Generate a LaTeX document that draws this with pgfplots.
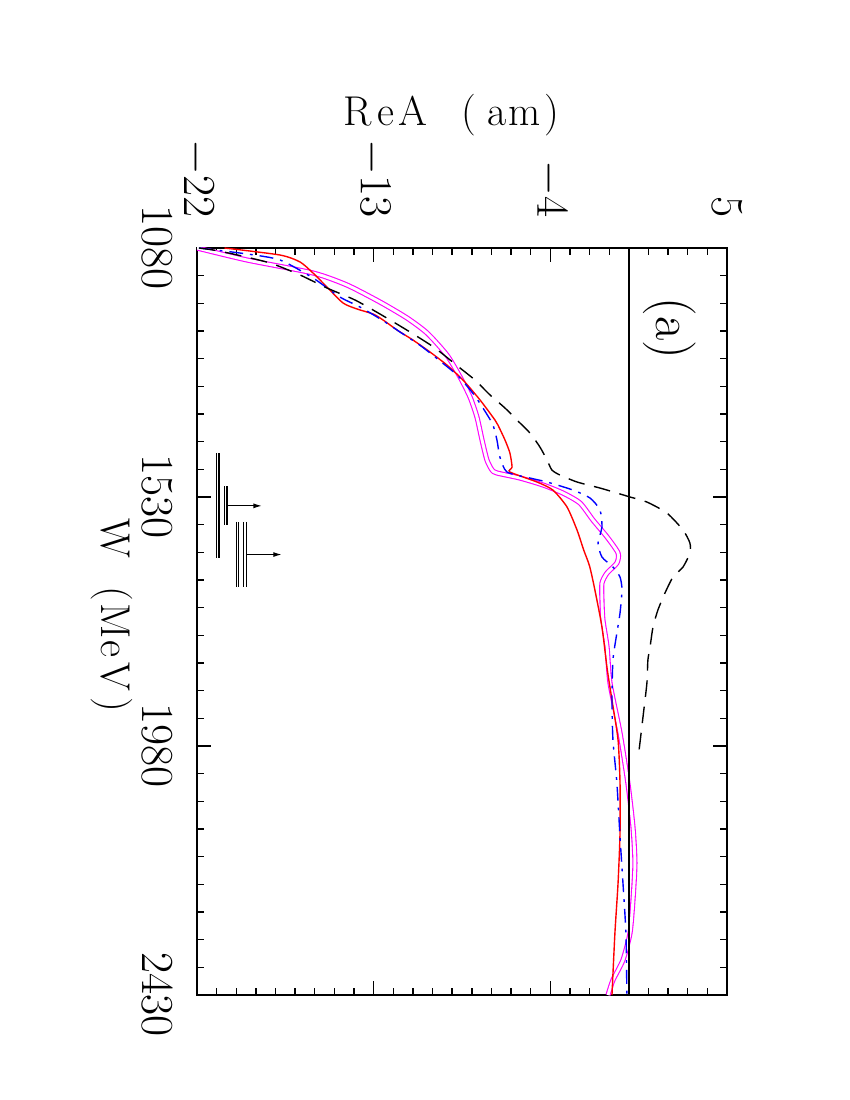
\documentclass[border=0pt]{standalone}
\usepackage{fix-cm}
\usepackage{pgfplots}
\pgfplotsset{compat=1.18}
\usetikzlibrary{arrows.meta}

\definecolor{cmag}{RGB}{255,0,255}
% fixed-pitch letters, as in the original labels
\newcommand{\cb}[1]{\makebox[20pt]{#1}}

\begin{document}
\begin{tikzpicture}
\useasboundingbox (0,0) rectangle (612pt,792pt);
\begin{axis}[
    at={(141.84pt,75.6pt)}, anchor=south west,
    scale only axis, width=381.6pt, height=537.84pt,
    xmin=-22, xmax=5, ymin=1080, ymax=2430, y dir=reverse,
    xtick={-22,-13,-4,5}, ytick={1080,1530,1980,2430},
    minor x tick num=8, minor y tick num=8,
    xtick pos=both, ytick pos=both,
    xticklabel pos=upper, yticklabel pos=left,
    tick align=inside,
    major tick length=10pt, minor tick length=5pt,
    every tick/.style={black, line width=1pt},
    axis line style={line width=1.3pt},
    scaled ticks=false,
    /pgf/number format/1000 sep={},
    tick label style={font=\fontsize{33}{40}\selectfont, inner sep=0pt},
    xticklabel style={rotate=-90, anchor=east},
    yticklabel style={rotate=-90, anchor=north},
    xticklabel shift=22pt, yticklabel shift=18pt,
    xlabel={\cb{R}\cb{e}\cb{A}\cb{}\cb{(}\cb{a}\cb{m}\cb{)}},
    ylabel={\cb{W}\cb{}\cb{(}\cb{M}\cb{e}\cb{V}\cb{)}},
    every axis x label/.style={at={(axis description cs:0.487,1.178)}, anchor=center, inner sep=0pt, font=\fontsize{30}{36}\selectfont},
    every axis y label/.style={at={(axis description cs:-0.121,0.5)}, rotate=-90, anchor=north, inner sep=0pt, font=\fontsize{30}{36}\selectfont},
]
% magenta band (double line)
\addplot[cmag, line width=0.8pt, double=white, double distance=2.1pt, smooth, tension=0.4] coordinates {
(-22,1080)(-19.45,1101.7)(-16.09,1125.2)(-14.36,1146.9)(-12.68,1177.6)(-11.30,1206.5)
(-10.28,1233.6)(-9.27,1273.4)(-8.60,1313.1)(-8.09,1349.3)(-7.74,1385.4)(-7.48,1427)
(-7.23,1463.1)(-6.97,1481.2)(-6.72,1486.6)(-5.55,1495.7)(-4.37,1508.3)(-3.36,1522.8)
(-2.49,1540.9)(-1.83,1571.6)(-1.11,1602.3)(-0.55,1631.2)(-0.61,1649.3)(-1.11,1667.4)
(-1.37,1685.5)(-1.37,1716.2)(-1.32,1752.3)(-1.11,1801.1)(-0.96,1866.2)(-0.45,1956.5)
(-0.05,2046.9)(0.21,2126.4)(0.31,2191.5)(0.21,2258.4)(0.06,2318)(-0.30,2366.8)
(-0.81,2403)(-1.06,2430)};
% red solid
\addplot[red, line width=1pt, smooth, tension=0.4] coordinates {
(-20.6,1080)(-17.77,1092.7)(-16.75,1105.3)(-16.09,1125.2)(-15.38,1150.5)(-14.56,1179.4)
(-13.85,1190.2)(-13.03,1199.3)(-12.52,1210.1)(-11.81,1228.2)(-11.00,1246.3)(-10.13,1268)
(-9.27,1291.5)(-8.45,1318.6)(-7.58,1354.7)(-6.82,1390.9)(-6.67,1399.9)(-6.31,1427)
(-6.06,1450.5)(-5.95,1475.8)(-6.06,1484.8)(-4.68,1502.9)(-3.87,1517.4)(-3.15,1548.1)
(-2.64,1589.7)(-2.30,1625.8)(-2.00,1655)(-1.73,1698.1)(-1.37,1765)(-1.11,1839.1)
(-0.86,1896.9)(-0.55,1969.2)(-0.45,2046.9)(-0.45,2137.3)(-0.55,2227.6)(-0.71,2318)
(-0.86,2430)};
% blue dash-dot
\addplot[blue, line width=1pt, smooth, tension=0.4, dash pattern=on 10pt off 5pt on 2pt off 5pt] coordinates {
(-21.9,1080)(-19.45,1090.8)(-17.77,1101.7)(-16.09,1134.2)(-14.72,1168.6)(-13.70,1186.6)
(-12.58,1210.1)(-11.66,1231.8)(-10.59,1257.1)(-9.62,1284.2)(-8.70,1311.3)(-7.84,1347.5)
(-6.97,1396.3)(-6.72,1427)(-6.57,1457.7)(-6.21,1484.8)(-5.04,1495.7)(-4.17,1502.9)
(-2.85,1517.4)(-1.98,1531.8)(-1.47,1553.5)(-1.37,1584.2)(-1.57,1613.2)(-1.37,1638.5)
(-0.81,1656.5)(-0.45,1674.6)(-0.35,1698.1)(-0.45,1739.7)(-0.61,1775.8)(-0.81,1824.6)
(-0.86,1896.9)(-0.81,1969.2)(-0.61,2046.9)(-0.45,2144.5)(-0.30,2227.6)(-0.15,2318)
(-0.10,2430)};
% black dashed
\addplot[black, line width=1pt, smooth, tension=0.4, dash pattern=on 12pt off 7pt] coordinates {
(-21.9,1080)(-21.18,1083.6)(-20.17,1090.8)(-18.28,1107.1)(-16.75,1128.8)(-15.38,1152.3)
(-13.95,1174)(-12.68,1199.3)(-11.15,1231.8)(-9.88,1260.7)(-8.60,1296.9)(-7.84,1318.6)
(-7.07,1345.7)(-6.31,1369.2)(-5.70,1390.9)(-5.04,1414.4)(-4.53,1439.7)(-4.17,1463.1)
(-3.92,1481.2)(-3.51,1490.3)(-2.64,1502.9)(-1.47,1513.8)(-0.61,1522.8)(0.06,1530)
(0.92,1539.1)(1.94,1559)(2.76,1589.7)(3.11,1613.2)(3.11,1631.2)(2.76,1656.5)
(2.25,1674.6)(1.84,1703.5)(1.48,1734.2)(1.23,1765)(1.08,1801.1)(0.97,1824.6)
(0.92,1866.2)(0.72,1927.6)(0.51,1990.9)};
% zero line
\addplot[black, line width=1pt] coordinates {(0,1080)(0,2430)};
% threshold markers
\addplot[black, line width=0.8pt] coordinates {(-21.0,1451)(-21.0,1641)};
\addplot[black, line width=0.8pt] coordinates {(-20.88,1451)(-20.88,1641)};
\addplot[black, line width=0.8pt] coordinates {(-20.61,1511)(-20.61,1581)};
\addplot[black, line width=0.8pt] coordinates {(-20.47,1511)(-20.47,1581)};
\addplot[black, line width=0.8pt, -{Latex[length=6pt,width=3.6pt]}] coordinates {(-20.47,1546)(-18.70,1546)};
\addplot[black, line width=0.8pt] coordinates {(-20.01,1575)(-20.01,1692)};
\addplot[black, line width=0.8pt] coordinates {(-19.88,1575)(-19.88,1692)};
\addplot[black, line width=0.8pt] coordinates {(-19.61,1575)(-19.61,1692)};
\addplot[black, line width=0.8pt] coordinates {(-19.47,1575)(-19.47,1692)};
\addplot[black, line width=0.8pt, -{Latex[length=6pt,width=3.6pt]}] coordinates {(-19.47,1634)(-17.69,1634)};
\node[rotate=-90, font=\fontsize{38}{45}\selectfont] at (axis cs:2.09,1226) {(a)};
\end{axis}
\end{tikzpicture}
\end{document}
